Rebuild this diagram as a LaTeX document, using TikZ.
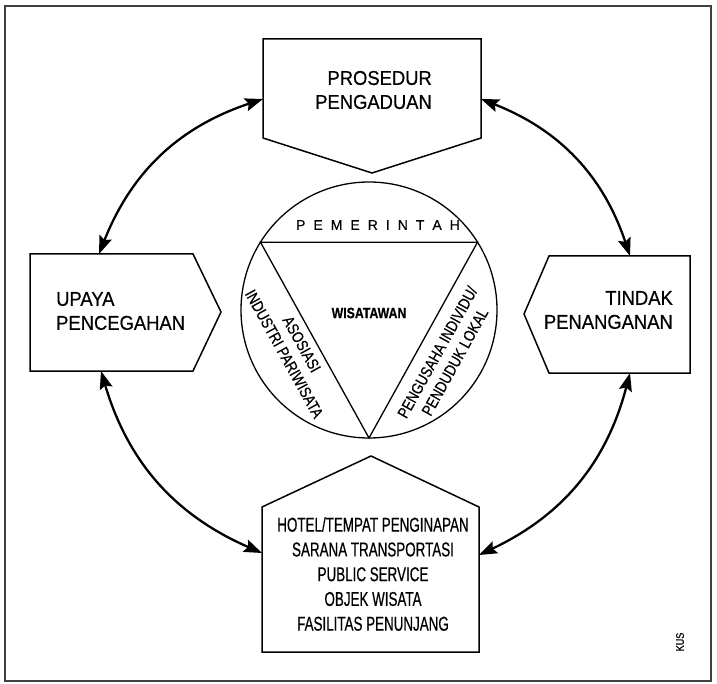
\documentclass[tikz,border=0pt]{standalone}
\usepackage{fontspec}
\setmainfont{Liberation Sans}
\newfontfamily\boxfont[FakeStretch=0.92,FakeBold=0.5]{Liberation Sans}
\newfontfamily\condfont[FakeStretch=0.67,FakeBold=0.5]{Liberation Sans}
\newfontfamily\tfont[FakeStretch=0.82,FakeBold=0.4]{Liberation Sans}
\newfontfamily\pfont[FakeBold=0.3]{Liberation Sans}
\usetikzlibrary{arrows.meta,calc}
\newcommand{\lsp}{\hspace{8pt}}
\begin{document}
\begin{tikzpicture}[x=1pt,y=1pt,
 shapeline/.style={line width=1.5pt},
 boxtext/.style={font=\boxfont\fontsize{20}{24}\selectfont, inner sep=0pt},
 listtext/.style={font=\condfont\fontsize{20}{24.75}\selectfont, align=center, inner sep=0pt},
 sidetext/.style={font=\tfont\fontsize{16}{20}\selectfont, align=center, inner sep=0pt},
 link/.style={line width=2.3pt, {Stealth[length=18pt,width=13pt,inset=3pt]}-{Stealth[length=18pt,width=13pt,inset=3pt]}, bend left=25}
]
\useasboundingbox (0,0) rectangle (717,-684);
\draw[line width=1.2pt, black!75] (5,-6) rectangle (711,-681);

% top box
\draw[shapeline] (263,-39) -- (481,-39) -- (481,-138) -- (372,-173) -- (263,-138) -- cycle;
\node[boxtext, align=right, anchor=east] (pro) at (432,-90) {PROSEDUR\\PENGADUAN};

% left box
\draw[shapeline] (30,-254) -- (193,-254) -- (221,-312) -- (193,-371) -- (30,-371) -- cycle;
\node[boxtext, align=left, anchor=west] (upa) at (56,-311) {UPAYA\\PENCEGAHAN};

% right box
\draw[shapeline] (549,-256) -- (690,-256) -- (690,-373) -- (549,-373) -- (524,-314) -- cycle;
\node[boxtext, align=right, anchor=east] (tin) at (673,-310) {TINDAK\\PENANGANAN};

% bottom box
\draw[shapeline] (262,-507) -- (371,-456) -- (479,-507) -- (479,-652) -- (262,-652) -- cycle;
\node[listtext] (fac) at (373,-574) {HOTEL/TEMPAT PENGINAPAN\\SARANA TRANSPORTASI\\PUBLIC SERVICE\\OBJEK WISATA\\FASILITAS PENUNJANG};

% circle and triangle
\coordinate (cc) at (369,-310);
\draw[line width=1.3pt] (cc) circle (128);
\draw[line width=1.3pt] ($(cc)+(148:128)$) -- ($(cc)+(32:128)$) -- ($(cc)+(-90:128)$) -- cycle;
\node[font=\pfont\fontsize{14}{16}\selectfont, inner sep=0pt] (pem) at (378,-225) {P\lsp E\lsp M\lsp E\lsp R\lsp I\lsp N\lsp T\lsp A\lsp H};
\node[font=\tfont\bfseries\fontsize{15}{16}\selectfont, inner sep=0pt] (wis) at (369,-313) {WISATAWAN};
\node[sidetext, rotate=-61] (aso) at (293,-349) {ASOSIASI\\INDUSTRI PARIWISATA};
\node[sidetext, rotate=61] (pen) at (446,-357) {PENGUSAHA INDIVIDU/\\PENDUDUK LOKAL};

% arrow end points
\coordinate (upN) at (99,-254);
\coordinate (proW) at (263,-99);
\coordinate (proE) at (481,-99);
\coordinate (tinN) at (630,-256);
\coordinate (tinS) at (630,-373);
\coordinate (botE) at (479,-555);
\coordinate (botW) at (262,-553);
\coordinate (upS) at (101,-371);

\draw[link] (upN) to (proW);
\draw[link] (proE) to (tinN);
\draw[link] (tinS) to (botE);
\draw[link] (botW) to (upS);

\node[font=\tfont\fontsize{11}{12}\selectfont, rotate=90, inner sep=0pt] (kus) at (680,-642) {KUS};
\end{tikzpicture}
\end{document}
